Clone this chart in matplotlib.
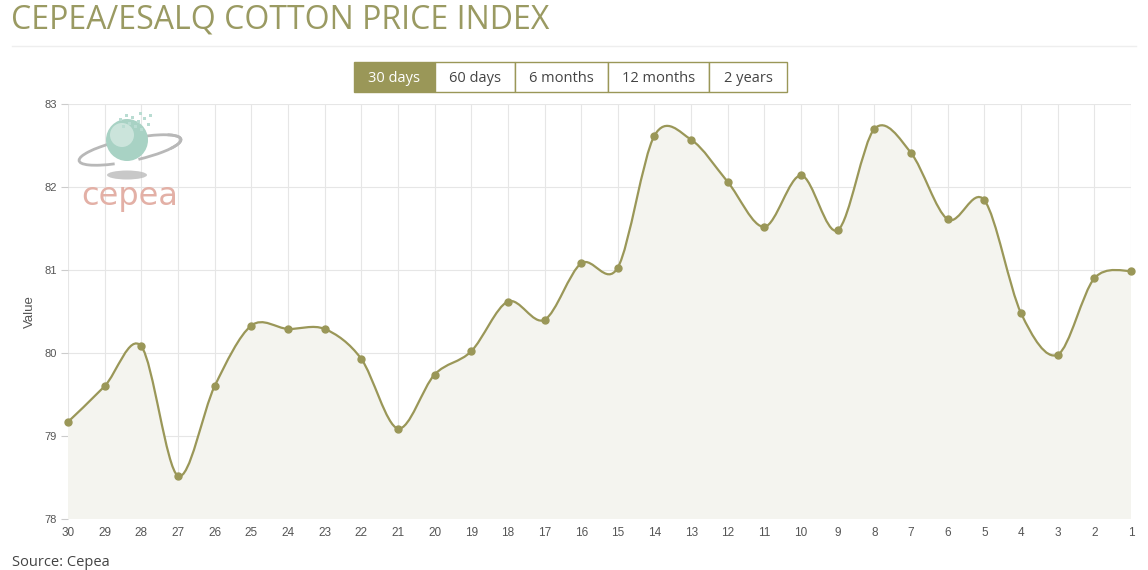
import matplotlib
matplotlib.use('Agg')
import matplotlib.pyplot as plt
from matplotlib.path import Path
from matplotlib.patches import PathPatch, Rectangle, Circle, Ellipse, Arc
import numpy as np

# data
days = ['30', '29', '28', '27', '26', '25', '24', '23', '22', '21', '20', '19', '18', '17', '16',
        '15', '14', '13', '12', '11', '10', '9', '8', '7', '6', '5', '4', '3', '2', '1']
values = [79.17, 79.60, 80.08, 78.52, 79.60, 80.33, 80.29, 80.29, 79.93, 79.09,
          79.74, 80.02, 80.62, 80.40, 81.08, 81.03, 82.62, 82.57, 82.06, 81.52,
          82.14, 81.48, 82.70, 82.41, 81.61, 81.84, 80.48, 79.98, 80.90, 80.99]
y_ticks = [78, 79, 80, 81, 82, 83]
buttons = ['30 days', '60 days', '6 months', '12 months', '2 years']

OLIVE = '#9a9758'
W, H = 1148, 570

fig = plt.figure(figsize=(W / 100, H / 100), dpi=100)
fig.patch.set_facecolor('white')


def fx(px):
    return px / W


def fy(py):
    return 1 - py / H


#spline through the points (cardinal / catmull-rom style)
def spline_verts(x, y, k=0.16):
    n = len(x)
    verts = [(x[0], y[0])]
    codes = [Path.MOVETO]
    for i in range(n - 1):
        i0 = max(i - 1, 0)
        i2 = min(i + 2, n - 1)
        c1 = (x[i] + k * (x[i + 1] - x[i0]), y[i] + k * (y[i + 1] - y[i0]))
        c2 = (x[i + 1] - k * (x[i2] - x[i]), y[i + 1] - k * (y[i2] - y[i]))
        verts += [c1, c2, (x[i + 1], y[i + 1])]
        codes += [Path.CURVE4] * 3
    return verts, codes


ax = fig.add_axes([fx(68), fy(519), fx(1131) - fx(68), fy(104) - fy(519)])
xs = np.arange(len(values))
ax.set_xlim(0, len(values) - 1)
ax.set_ylim(78, 83)

verts, codes = spline_verts(xs, values)
fill_verts = verts + [(xs[-1], 78), (xs[0], 78), verts[0]]
fill_codes = codes + [Path.LINETO, Path.LINETO, Path.CLOSEPOLY]
ax.add_patch(PathPatch(Path(fill_verts, fill_codes), facecolor='#f4f4ef', edgecolor='none', zorder=1))
ax.add_patch(PathPatch(Path(verts, codes), facecolor='none', edgecolor=OLIVE, lw=1.6, zorder=3))
ax.plot(xs, values, 'o', color=OLIVE, markersize=5, zorder=4, clip_on=False)

ax.set_xticks(xs)
ax.set_xticklabels(days)
ax.set_yticks(y_ticks)
ax.grid(True, color='#e6e6e6', lw=0.8, zorder=0)
ax.set_axisbelow(True)
for s in ax.spines.values():
    s.set_visible(False)
ax.tick_params(axis='x', length=0, pad=6, labelsize=8.5, labelcolor='#555555')
ax.tick_params(axis='y', length=5, color='#cccccc', pad=3, labelsize=8, labelcolor='#555555')
for lab in ax.get_xticklabels() + ax.get_yticklabels():
    lab.set_fontfamily('Liberation Sans')
ax.set_ylabel('Value', fontsize=9.5, color='#555555', family='Liberation Sans', labelpad=6)

#title, separator
fig.text(fx(11), fy(28), 'CEPEA/ESALQ COTTON PRICE INDEX', fontsize=23, color='#9a9a62',
         family='Open Sans', va='baseline', ha='left')
fig.add_artist(plt.Line2D([fx(12), fx(1136)], [fy(46), fy(46)], color='#eeeeee', lw=1))

#buttons
edges = [354, 435, 515, 608, 709, 787]
for i, b in enumerate(buttons):
    x0, x1 = edges[i], edges[i + 1]
    sel = i == 0
    fig.add_artist(Rectangle((fx(x0), fy(92)), fx(x1) - fx(x0), fy(62) - fy(92),
                             transform=fig.transFigure, facecolor=OLIVE if sel else 'white',
                             edgecolor=OLIVE, lw=1))
    fig.text(fx((x0 + x1) / 2), fy(78), b, ha='center', va='center', fontsize=10.5,
             color='white' if sel else '#444444', family='Open Sans')

fig.text(fx(12), fy(566), 'Source: Cepea', fontsize=10.5, color='#444444', family='Open Sans',
         va='baseline')

#logo, drawn in its own pixel-space axes
lg = fig.add_axes([fx(76), fy(212), fx(186) - fx(76), fy(106) - fy(212)])
lg.set_xlim(76, 186)
lg.set_ylim(212, 106)
lg.axis('off')
lg.add_patch(Ellipse((127, 175), 40, 9, facecolor='#bbbbbb', edgecolor='none', alpha=0.8))
lg.add_patch(Arc((130, 150), 104, 22, angle=-12, theta1=150, theta2=370, color='#b8b8b8', lw=2))
lg.add_patch(Circle((127, 140), 21, facecolor='#a8d2c4', edgecolor='none'))
lg.add_patch(Circle((122, 135), 12, facecolor='#cfe7de', edgecolor='none', alpha=0.9))
lg.add_patch(Arc((130, 150), 104, 22, angle=-12, theta1=-10, theta2=60, color='#b8b8b8', lw=2))
for px, py in [(119, 118), (125, 114), (131, 116), (137, 120), (143, 117), (128, 122), (134, 125),
               (140, 128), (122, 125), (147, 123), (149, 114), (139, 112)]:
    lg.add_patch(Rectangle((px, py), 3, 3, facecolor='#b9dcd2', edgecolor='none'))
lg.text(130, 205, 'cepea', ha='center', va='baseline', fontsize=23,
        color='#e3b0a6', family='DejaVu Sans')

fig.savefig('out.png', dpi=100)
